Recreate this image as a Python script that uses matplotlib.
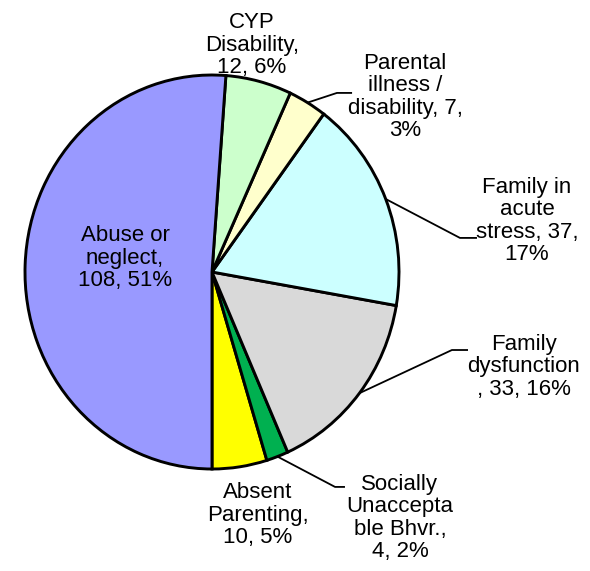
import numpy as np
import matplotlib
matplotlib.use("Agg")
import matplotlib.pyplot as plt

plt.rcParams['font.family'] = ['Liberation Sans', 'DejaVu Sans']

# slices, counter-clockwise starting at the bottom of the pie
categories = ["Absent Parenting", "Socially Unacceptable Bhvr.", "Family dysfunction",
              "Family in acute stress", "Parental illness / disability",
              "CYP Disability", "Abuse or neglect"]
counts = [10, 4, 33, 37, 7, 12, 108]
labels = ["Absent\nParenting,\n10, 5%",
          "Socially\nUnaccepta\nble Bhvr.,\n4, 2%",
          "Family\ndysfunction\n, 33, 16%",
          "Family in\nacute\nstress, 37,\n17%",
          "Parental\nillness /\ndisability, 7,\n3%",
          "CYP\nDisability,\n12, 6%",
          "Abuse or\nneglect,\n108, 51%"]
colors = ["#FFFF00", "#00B050", "#D9D9D9", "#CCFFFF", "#FFFFCC", "#CCFFCC", "#9999FF"]

# label centres (x, y) and leader elbow (x_elbow, x_end, y) where a leader is drawn
label_pos = [(0.246, -1.234), (1.005, -1.249), (1.668, -0.482), (1.684, 0.259),
             (1.032, 0.888), (0.214, 1.152), (-0.465, 0.071)]
leaders = [None, (0.658, 0.711, -1.091), (1.283, 1.369, -0.396),
           (1.326, 1.417, 0.173), (0.668, 0.749, 0.909), None, None]

fig = plt.figure(figsize=(5.90, 5.71), dpi=100)
ax = fig.add_axes([0, 0, 1, 1])

wedges, _ = ax.pie(counts, colors=colors, startangle=270, counterclock=True,
                   radius=1.0, wedgeprops=dict(edgecolor="black", linewidth=2.1))

# Excel-style slightly flattened pie: different x / y scale
ax.set_aspect('auto')
ax.set_xlim(-212 / 187, (590 - 212) / 187)
ax.set_ylim(-(571 - 272) / 197, 272 / 197)
ax.axis('off')

for w, lab, (tx, ty), ld in zip(wedges, labels, label_pos, leaders):
    ax.text(tx, ty, lab, ha='center', va='center', multialignment='center',
            fontsize=16, linespacing=1.1, color='black')
    if ld is not None:
        mid = np.deg2rad((w.theta1 + w.theta2) / 2)
        x0, y0 = np.cos(mid), np.sin(mid)
        ex, ex2, ey = ld
        ax.plot([x0, ex, ex2], [y0, ey, ey], color='black', lw=1.3,
                solid_capstyle='butt', zorder=0)

fig.savefig("out.png", dpi=100)
